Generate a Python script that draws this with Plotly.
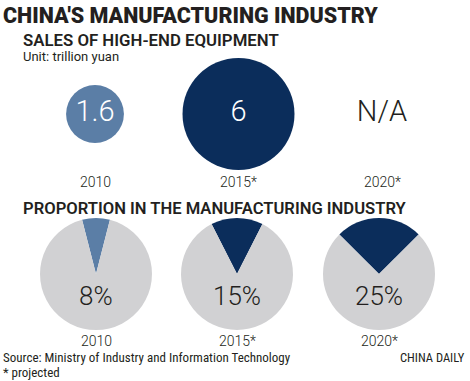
import plotly.graph_objects as go

W, H = 470, 381

# ---- data ----
years = ["2010", "2015*", "2020*"]
sales = [1.6, 6.0, None]            # trillion yuan (2020 not available)
sales_labels = ["1.6", "6", "N/A"]
proportion = [8, 15, 25]            # % of manufacturing industry
pct_labels = ["8%", "15%", "25%"]

# ---- style ----
light_blue = "#5b7ea6"
navy = "#0b2d5b"
grey = "#d1d1d3"
ink = "#231f20"
year_colors = [light_blue, navy, navy]
COND = "Liberation Sans Narrow, Arial Narrow, Roboto Condensed, Roboto, sans-serif"
SANS = "Roboto, Liberation Sans, sans-serif"


def py(y_px):
    return 1 - y_px / H


def px(x_px):
    return x_px / W


fig = go.Figure()

# ---- bubbles (area proportional to value) ----
max_d = 112
sizes = [v if v is not None else 0 for v in sales]
sizeref = 2.0 * max(sizes) / (max_d ** 2)
text_colors = ["white" if v is not None else ink for v in sales]
fig.add_trace(go.Scatter(
    x=years, y=[0] * len(years), mode="markers+text",
    marker=dict(size=sizes, sizemode="area", sizeref=sizeref,
                color=year_colors, line=dict(width=0), opacity=1),
    text=sales_labels, textposition="middle center",
    textfont=dict(family=SANS, size=29, color=text_colors, weight=300),
    cliponaxis=False, hoverinfo="skip", showlegend=False,
    xaxis="x", yaxis="y",
))

fig.update_layout(
    xaxis=dict(domain=[px(23.25), px(453.75)], range=[-0.5, 2.5],
               type="category", categoryorder="array", categoryarray=years,
               visible=False, fixedrange=True),
    yaxis=dict(domain=[py(152), py(76)], range=[-1, 1], visible=False,
               fixedrange=True),
)

# ---- pies ----
pie_cx = [96, 237, 379]
pie_cy = 274
r = 56
for i, (p, c) in enumerate(zip(proportion, year_colors)):
    fig.add_trace(go.Pie(
        values=[p, 100 - p], labels=["share", "rest"],
        marker=dict(colors=[c, grey], line=dict(width=0)),
        sort=False, direction="clockwise", rotation=-p * 3.6 / 2,
        textinfo="none", hoverinfo="skip", showlegend=False,
        domain=dict(x=[px(pie_cx[i] - r), px(pie_cx[i] + r)],
                    y=[py(pie_cy + r), py(pie_cy - r)]),
    ))

annotations = []


def add_text(text, x, y, size, family=COND, color=ink, xanchor="left",
             weight=None, xref="paper"):
    f = dict(family=family, size=size, color=color)
    if weight is not None:
        f["weight"] = weight
    annotations.append(dict(text=text, x=x, y=py(y), xref=xref, yref="paper",
                            xanchor=xanchor, yanchor="middle", showarrow=False,
                            font=f))


add_text("CHINA'S MANUFACTURING INDUSTRY", px(1), 15, 21.5, family=SANS, weight=900)
add_text("SALES OF HIGH-END EQUIPMENT", px(21), 40, 16.8, family=SANS, weight=600)
add_text("Unit: trillion yuan", px(21), 56, 13, family=SANS)

for i, yr in enumerate(years):
    add_text(yr, i, 182, 14, family=SANS, xanchor="center", xref="x", weight=300)

add_text("PROPORTION IN THE MANUFACTURING INDUSTRY", px(21), 208, 16.6,
         family=SANS, weight=600)

for i, lbl in enumerate(pct_labels):
    add_text(lbl, px(pie_cx[i]), 296, 26, family=SANS, xanchor="center", weight=300)
    add_text(years[i], px(pie_cx[i]), 341, 14, family=SANS, xanchor="center", weight=300)

add_text("Source: Ministry of Industry and Information Technology", px(1), 357, 13)
add_text("* projected", px(1), 372, 13)
add_text("CHINA DAILY", px(467), 357, 12.5, xanchor="right")

fig.update_layout(
    width=W, height=H, margin=dict(l=0, r=0, t=0, b=0),
    paper_bgcolor="white", plot_bgcolor="white",
    annotations=annotations,
)

fig.write_html("out.html", config={"displayModeBar": False},
               post_script="document.body.style.margin='0';"
                           "document.body.style.overflow='hidden';")
